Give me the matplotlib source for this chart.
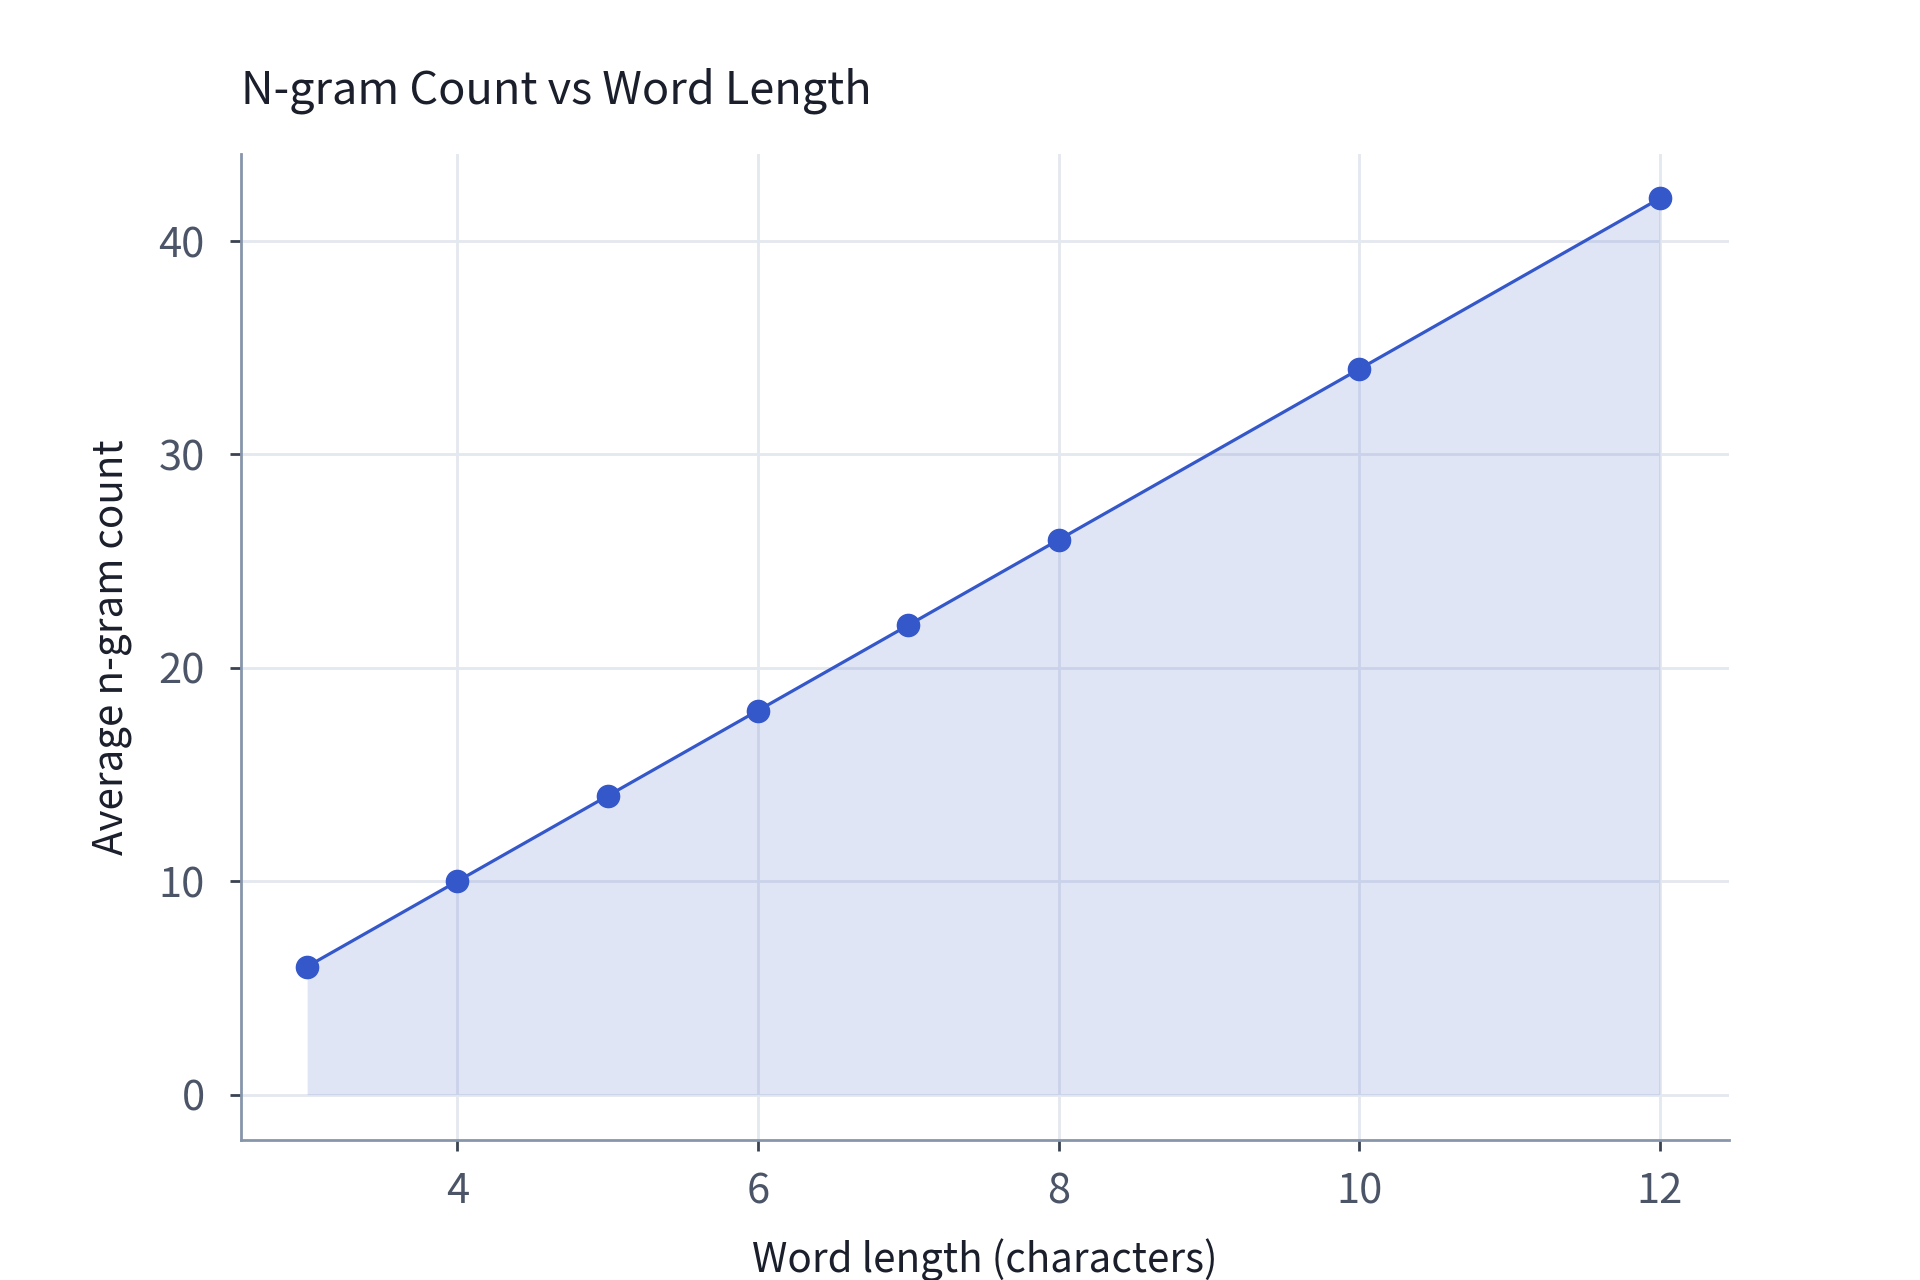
import matplotlib
matplotlib.use("Agg")
import matplotlib.pyplot as plt

# ------------------------------------------------------------------------------
word_length = [3, 4, 5, 6, 7, 8, 10, 12]
avg_ngram_count = [6, 10, 14, 18, 22, 26, 34, 42]
x_ticks = [4, 6, 8, 10, 12]
y_ticks = [0, 10, 20, 30, 40]

plt.rcParams['font.family'] = ['Noto Sans CJK KR', 'DejaVu Sans']

line_color = '#3457c9'
spine_color = '#8795aa'
grid_color = '#e4e8ef'
tick_color = '#4b5567'

# ------------------------------------------------------------------------------
fig = plt.figure(figsize=(19.2, 12.8), dpi=100)
ax = fig.add_axes([0.1255, 0.109, 0.775, 0.771])

ax.fill_between(word_length, avg_ngram_count, 0, color=line_color, alpha=0.15,
                linewidth=0, zorder=2)
ax.plot(word_length, avg_ngram_count, color=line_color, linewidth=2.3,
        marker='o', markersize=16, zorder=3)

ax.set_xlim(2.56, 12.46)
ax.set_ylim(-2.15, 44.1)
ax.set_xticks(x_ticks)
ax.set_yticks(y_ticks)
ax.grid(True, color=grid_color, linewidth=2, zorder=1)
ax.set_axisbelow(True)

for side in ['top', 'right']:
    ax.spines[side].set_visible(False)
for side in ['left', 'bottom']:
    ax.spines[side].set_color(spine_color)
    ax.spines[side].set_linewidth(2)

ax.tick_params(axis='both', direction='out', length=8, width=2,
               color='#3b4352', labelcolor=tick_color, labelsize=30)
ax.tick_params(axis='x', pad=14)
ax.tick_params(axis='y', pad=18)

ax.set_xlabel('Word length (characters)', fontsize=29, color='#1a1f2b', labelpad=19)
ax.set_ylabel('Average n-gram count', fontsize=29, color='#1a1f2b', labelpad=19)
ax.set_title('N-gram Count vs Word Length', fontsize=32.5, color='#1a1f2b',
             loc='left', pad=36)

fig.savefig('out.png', dpi=100)
